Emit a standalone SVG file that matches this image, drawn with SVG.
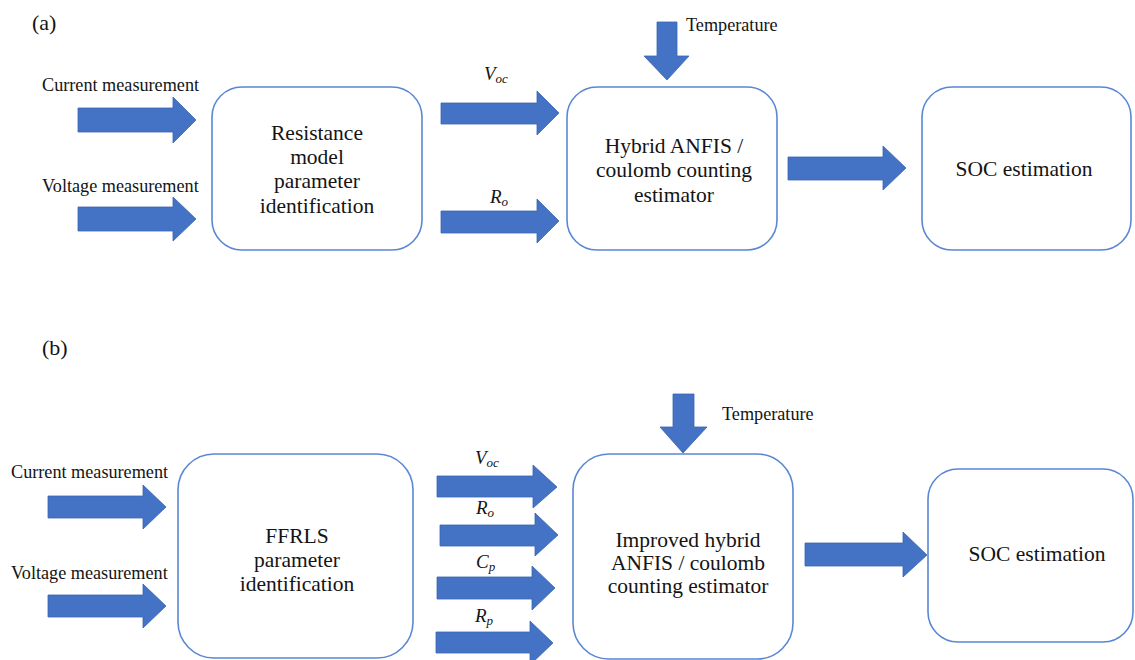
<svg xmlns="http://www.w3.org/2000/svg" width="1135" height="660" viewBox="0 0 1135 660">
<style>
.bg{fill:#ffffff}
.box{fill:#ffffff;stroke:#5A87D4;stroke-width:1.6}
.arr{fill:#4472C4;stroke:#3A65B2;stroke-width:0.8}
text{font-family:"Liberation Serif","Times New Roman",serif;fill:#141414}
.node{font-size:21.5px;text-anchor:middle}
.lab{font-size:18.2px}
.tag{font-size:22px}
.m{font-style:italic;font-size:19px}
.sub{font-size:13px}
</style>
<rect class="bg" x="0" y="0" width="1135" height="660"/>

<g id="labels-a">
<text class="tag" x="32" y="30">(a)</text>
<text class="lab" x="42" y="91">Current measurement</text>
<text class="lab" x="42" y="192">Voltage measurement</text>
<text class="lab" x="686" y="31">Temperature</text>
<text class="m" x="484" y="80">V<tspan class="sub" dy="3">oc</tspan></text>
<text class="m" x="490" y="203">R<tspan class="sub" dy="3">o</tspan></text>
</g>

<g id="node-resistance">
<rect class="box" x="212" y="87" width="210" height="163" rx="30"/>
<text class="node" x="317" y="140">Resistance</text>
<text class="node" x="317" y="164">model</text>
<text class="node" x="317" y="188">parameter</text>
<text class="node" x="317" y="213">identification</text>
</g>

<g id="node-hybrid">
<rect class="box" x="567" y="87" width="210" height="163" rx="30"/>
<text class="node" x="674" y="153">Hybrid ANFIS /</text>
<text class="node" x="674" y="177">coulomb counting</text>
<text class="node" x="674" y="202">estimator</text>
</g>

<g id="node-soc-a">
<rect class="box" x="922" y="87" width="209" height="163" rx="30"/>
<text class="node" x="1024" y="176">SOC estimation</text>
</g>

<g id="labels-b">
<text class="tag" x="42" y="355">(b)</text>
<text class="lab" x="11" y="478">Current measurement</text>
<text class="lab" x="11" y="579">Voltage measurement</text>
<text class="lab" x="722" y="420">Temperature</text>
<text class="m" x="475" y="464">V<tspan class="sub" dy="3">oc</tspan></text>
<text class="m" x="476" y="514">R<tspan class="sub" dy="3">o</tspan></text>
<text class="m" x="476" y="568">C<tspan class="sub" dy="3">p</tspan></text>
<text class="m" x="475" y="622">R<tspan class="sub" dy="3">p</tspan></text>
</g>

<g id="node-ffrls">
<rect class="box" x="178" y="454" width="235" height="204" rx="36"/>
<text class="node" x="297" y="543">FFRLS</text>
<text class="node" x="297" y="567">parameter</text>
<text class="node" x="297" y="591">identification</text>
</g>

<g id="node-improved">
<rect class="box" x="573" y="454" width="220" height="205" rx="36"/>
<text class="node" x="688" y="547">Improved hybrid</text>
<text class="node" x="688" y="570">ANFIS / coulomb</text>
<text class="node" x="688" y="593">counting estimator</text>
</g>

<g id="node-soc-b">
<rect class="box" x="928" y="469" width="205" height="173" rx="30"/>
<text class="node" x="1037" y="561">SOC estimation</text>
</g>

<g id="connectors">
<polygon class="arr" points="78,108 173,108 173,97 196,120 173,143 173,132 78,132"/>
<polygon class="arr" points="78,207 173,207 173,197 196,219 173,241 173,231 78,231"/>
<polygon class="arr" points="441,103 537,103 537,91 559,113 537,135 537,124 441,124"/>
<polygon class="arr" points="441,211 537,211 537,199 559,221 537,243 537,233 441,233"/>
<polygon class="arr" points="788,157 883,157 883,146 906,168 883,190 883,180 788,180"/>
<polygon class="arr" points="657,22 677,22 677,56 689,56 667,80 644,56 657,56"/>
<polygon class="arr" points="48,496 143,496 143,485 166,507 143,529 143,518 48,518"/>
<polygon class="arr" points="48,595 143,595 143,584 166,606 143,628 143,617 48,617"/>
<polygon class="arr" points="437,476 533,476 533,465 557,487 533,508 533,497 437,497"/>
<polygon class="arr" points="440,525 535,525 535,513 558,535 535,556 535,546 440,546"/>
<polygon class="arr" points="437,577 532,577 532,566 555,588 532,610 532,599 437,599"/>
<polygon class="arr" points="436,632 530,632 530,621 553,643 530,665 530,653 436,653"/>
<polygon class="arr" points="805,543 903,543 903,532 927,555 903,577 903,566 805,566"/>
<polygon class="arr" points="673,394 694,394 694,427 707,427 683,453 660,427 673,427"/>
</g>
</svg>
